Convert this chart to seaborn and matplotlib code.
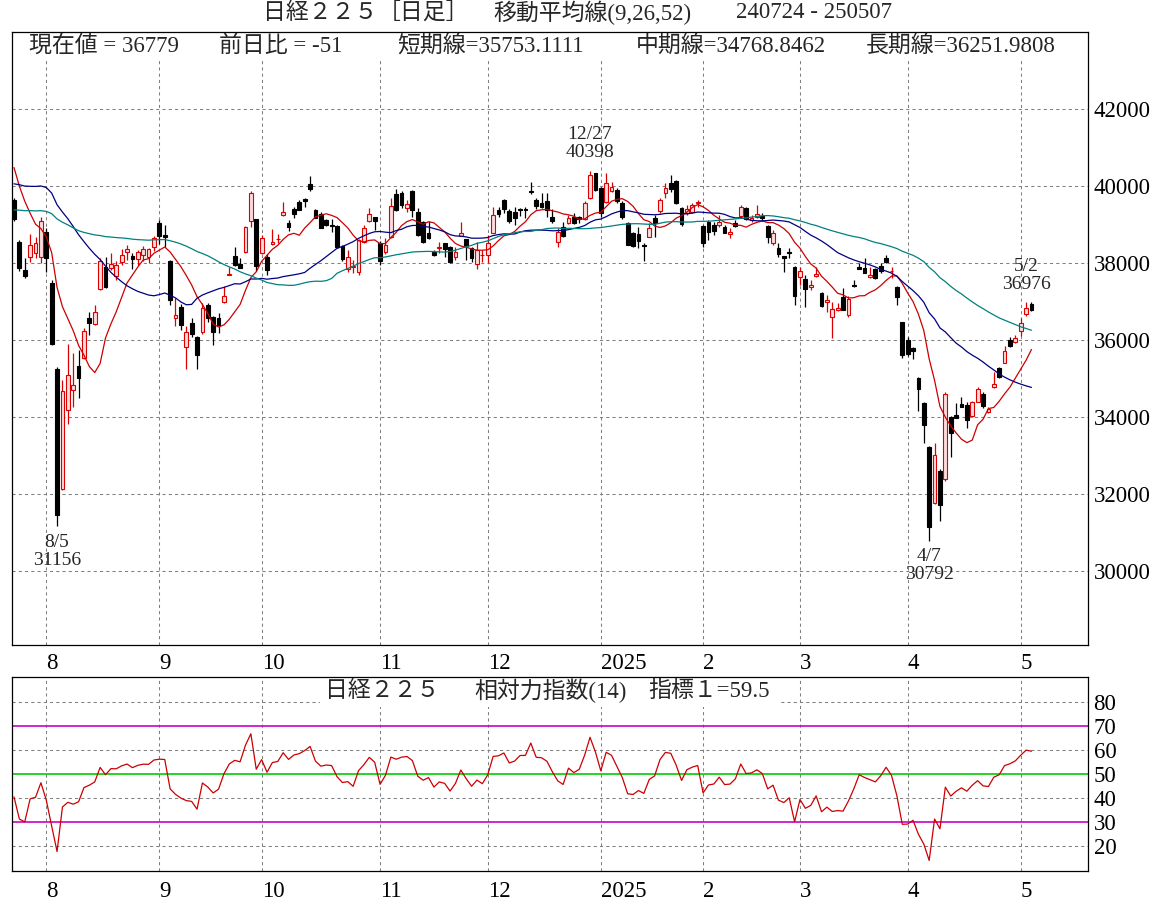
import numpy as np
import pandas as pd
import matplotlib
matplotlib.use("Agg")
import matplotlib.pyplot as plt
import seaborn as sns
from matplotlib.patches import Rectangle

# ---------------- data ----------------
# closes before the display window (2024-05-09 .. 2024-07-23), used for MA / RSI warm-up
prior_close = [38073, 38229, 38179, 38356, 38385, 38920, 38787, 39069, 38946, 38617, 39103, 38646,
               38900, 38855, 38556, 38054, 38487,
               38923, 38837, 38490, 38703, 38683, 39038, 39134, 38876, 38720, 38814, 38102, 38482,
               38570, 38633, 38596, 38804, 39173, 39667, 39341, 39583,
               39631, 40074, 40580, 40913, 40912, 40780, 41580, 41831, 42224, 41190, 41275, 41097,
               40126, 40063, 39599, 39594]

dates = ["2024-07-24", "2024-07-25", "2024-07-26", "2024-07-29", "2024-07-30", "2024-07-31",
         "2024-08-01", "2024-08-02", "2024-08-05", "2024-08-06", "2024-08-07", "2024-08-08", "2024-08-09",
         "2024-08-13", "2024-08-14", "2024-08-15", "2024-08-16", "2024-08-19", "2024-08-20", "2024-08-21",
         "2024-08-22", "2024-08-23", "2024-08-26", "2024-08-27", "2024-08-28", "2024-08-29", "2024-08-30",
         "2024-09-02", "2024-09-03", "2024-09-04", "2024-09-05", "2024-09-06", "2024-09-09", "2024-09-10",
         "2024-09-11", "2024-09-12", "2024-09-13", "2024-09-17", "2024-09-18", "2024-09-19", "2024-09-20",
         "2024-09-24", "2024-09-25", "2024-09-26", "2024-09-27", "2024-09-30",
         "2024-10-01", "2024-10-02", "2024-10-03", "2024-10-04", "2024-10-07", "2024-10-08", "2024-10-09",
         "2024-10-10", "2024-10-11", "2024-10-15", "2024-10-16", "2024-10-17", "2024-10-18", "2024-10-21",
         "2024-10-22", "2024-10-23", "2024-10-24", "2024-10-25", "2024-10-28", "2024-10-29", "2024-10-30",
         "2024-10-31",
         "2024-11-01", "2024-11-05", "2024-11-06", "2024-11-07", "2024-11-08", "2024-11-11", "2024-11-12",
         "2024-11-13", "2024-11-14", "2024-11-15", "2024-11-18", "2024-11-19", "2024-11-20", "2024-11-21",
         "2024-11-22", "2024-11-25", "2024-11-26", "2024-11-27", "2024-11-28", "2024-11-29",
         "2024-12-02", "2024-12-03", "2024-12-04", "2024-12-05", "2024-12-06", "2024-12-09", "2024-12-10",
         "2024-12-11", "2024-12-12", "2024-12-13", "2024-12-16", "2024-12-17", "2024-12-18", "2024-12-19",
         "2024-12-20", "2024-12-23", "2024-12-24", "2024-12-25", "2024-12-26", "2024-12-27", "2024-12-30",
         "2025-01-06", "2025-01-07", "2025-01-08", "2025-01-09", "2025-01-10", "2025-01-14", "2025-01-15",
         "2025-01-16", "2025-01-17", "2025-01-20", "2025-01-21", "2025-01-22", "2025-01-23", "2025-01-24",
         "2025-01-27", "2025-01-28", "2025-01-29", "2025-01-30", "2025-01-31",
         "2025-02-03", "2025-02-04", "2025-02-05", "2025-02-06", "2025-02-07", "2025-02-10", "2025-02-12",
         "2025-02-13", "2025-02-14", "2025-02-17", "2025-02-18", "2025-02-19", "2025-02-20", "2025-02-21",
         "2025-02-25", "2025-02-26", "2025-02-27", "2025-02-28",
         "2025-03-03", "2025-03-04", "2025-03-05", "2025-03-06", "2025-03-07", "2025-03-10", "2025-03-11",
         "2025-03-12", "2025-03-13", "2025-03-14", "2025-03-17", "2025-03-18", "2025-03-19", "2025-03-21",
         "2025-03-24", "2025-03-25", "2025-03-26", "2025-03-27", "2025-03-28", "2025-03-31",
         "2025-04-01", "2025-04-02", "2025-04-03", "2025-04-04", "2025-04-07", "2025-04-08", "2025-04-09",
         "2025-04-10", "2025-04-11", "2025-04-14", "2025-04-15", "2025-04-16", "2025-04-17", "2025-04-18",
         "2025-04-21", "2025-04-22", "2025-04-23", "2025-04-24", "2025-04-25", "2025-04-28", "2025-04-30",
         "2025-05-01", "2025-05-02", "2025-05-07"]

opens = [39640, 38550, 37820, 38160, 38260, 38160,
         38805, 37480, 35250, 32130, 34180, 34700, 35325, 35530, 36570, 36420, 37330, 37900, 37870, 37660,
         38020, 38280, 38180, 38100, 38210, 38160, 38420,
         39040, 38730, 38050, 36570, 36860, 35820, 36440, 36080, 36210, 36910, 36600, 36570, 36990, 37700,
         38180, 37970, 38290, 39090, 39140,
         38260, 38160, 38490, 38620, 39250, 39040, 39400, 39580, 39660, 40050, 39380, 39270, 39110, 38990,
         38960, 38440, 37850, 37900, 37770, 38550, 39090, 39190,
         38520, 38290, 38680, 39790, 39820, 39430, 39870, 39320, 39060, 38780, 38290, 38400, 38520, 38410,
         38160, 38700, 38620, 38390, 37980, 38200,
         38210, 38780, 39380, 39640, 39350, 39320, 39390, 39400, 39870, 39640, 39560, 39610, 39200, 38550,
         38940, 39040, 39190, 39190, 39150, 39690, 40340,
         39950, 39580, 39870, 39900, 39560, 39040, 38780, 38750, 38480, 38680, 39170, 39350, 39820, 40080,
         40130, 39430, 39300, 39330, 39560,
         38960, 39070, 38990, 38990, 38940, 38750, 39030, 39220, 39430, 39120, 39200, 39220, 38960, 38520,
         38390, 38170, 38290, 37900,
         37640, 37590, 37380, 37660, 37220, 36990, 36600, 36780, 37120, 36650, 37440, 37900, 37870, 37640,
         37840, 37920, 38130, 37780, 37380, 36470,
         36000, 35790, 35010, 34360, 33220, 31770, 32600, 32390, 34000, 34050, 34340, 34310, 34030, 34390,
         34600, 34130, 34780, 35270, 35400, 36000, 35950,
         36230, 36680, 36930]

highs = [39680, 38600, 38130, 38750, 38680, 39200,
         38910, 37560, 35300, 34960, 35900, 35660, 35740, 36300, 36730, 36910, 38140, 38150, 38260, 38050,
         38360, 38470, 38260, 38340, 38440, 38400, 38700,
         39120, 38990, 38080, 37090, 36940, 36360, 36570, 36100, 36960, 36960, 36620, 36700, 37400, 37900,
         38410, 38130, 38950, 39860, 39150,
         38730, 38230, 38880, 38750, 39580, 39120, 39460, 39640, 39690, 40257, 39390, 39320, 39150, 39140,
         38990, 38460, 38330, 38080, 38620, 38990, 39430, 39200,
         38560, 38640, 39690, 39920, 39880, 39640, 39890, 39430, 39100, 39090, 38330, 38540, 38530, 38430,
         38420, 39060, 38630, 38420, 38540, 38340,
         38730, 39450, 39460, 39660, 39400, 39460, 39430, 39460, 40091, 39680, 39810, 39820, 39400, 38910,
         39070, 39250, 39300, 39220, 39600, 40398, 40350,
         39980, 40350, 40100, 39950, 39600, 39060, 38800, 38940, 38520, 39040, 39250, 39700, 40080, 40280,
         40150, 39450, 39500, 39560, 39640,
         38980, 39120, 39070, 39250, 38990, 38910, 39120, 39500, 39450, 39250, 39500, 39300, 38990, 38850,
         38530, 38190, 38390, 37920,
         37890, 37680, 37550, 37900, 37250, 37170, 37000, 36960, 37350, 37150, 37560, 38000, 38130, 37900,
         37860, 38010, 38220, 37900, 37390, 36480,
         36080, 35820, 35030, 34380, 33240, 33330, 32650, 34650, 34020, 34370, 34520, 34400, 34420, 34790,
         34650, 34260, 35170, 35300, 35850, 36080, 36140,
         36570, 36976, 36980]

lows = [39090, 37800, 37600, 38020, 38130, 38000,
        37770, 35880, 31156, 32100, 33820, 34260, 34490, 35500, 36130, 36380, 37290, 37360, 37820, 37550,
        37950, 38080, 37840, 37950, 38050, 38000, 38300,
        38500, 38410, 36910, 36360, 36260, 35250, 36080, 35250, 36150, 36460, 35870, 36180, 36950, 37690,
        37920, 37860, 38250, 38940, 37800,
        38240, 37690, 38480, 38520, 39230, 38830, 39160, 39370, 39450, 39880, 39160, 38900, 38950, 38800,
        38400, 38060, 37770, 37740, 37700, 38520, 39060, 38850,
        37950, 38230, 38640, 39350, 39440, 39330, 39190, 38700, 38510, 38620, 38180, 38270, 38150, 37990,
        38070, 38690, 38090, 38030, 37840, 38030,
        38000, 38770, 39200, 39300, 39050, 38990, 39220, 39170, 39800, 39400, 39420, 39190, 39050, 38420,
        38680, 39020, 39020, 39050, 39120, 39650, 39860,
        39200, 39560, 39850, 39560, 39140, 38460, 38420, 38390, 38055, 38670, 38680, 39300, 39690, 39840,
        39540, 38950, 39250, 39300, 39450,
        38410, 38600, 38730, 38940, 38780, 38650, 38940, 39180, 39120, 39060, 39180, 39100, 38520, 38470,
        38160, 37770, 38130, 36900,
        37430, 36860, 37300, 37640, 36860, 36730, 36040, 36760, 36780, 36600, 37380, 37840, 37740, 37620,
        37590, 37740, 38000, 37620, 36900, 35520,
        35580, 35510, 34160, 33330, 30792, 31750, 31300, 32350, 32960, 33970, 34250, 33720, 34010, 34380,
        34240, 34110, 34760, 35010, 35400, 35820, 35930,
        36100, 36620, 36760]

closes = [39154, 37869, 37667, 38468, 38526, 39101,
          38126, 35909, 31458, 34675, 35089, 34831, 35025, 36232, 36442, 36726, 38062, 37388, 37963, 37951,
          38211, 38364, 38110, 38288, 38371, 38362, 38647,
          38700, 38686, 37047, 36657, 36391, 36215, 36159, 35619, 36833, 36581, 36203, 36380, 37155, 37723,
          37940, 37870, 38925, 39829, 37919,
          38651, 37808, 38552, 38635, 39332, 38937, 39277, 39380, 39605, 39910, 39180, 38911, 38981, 38954,
          38411, 38104, 38143, 37913, 38605, 38904, 39277, 39081,
          38053, 38474, 39480, 39381, 39500, 39533, 39376, 38721, 38535, 38642, 38220, 38414, 38352, 38026,
          38283, 38780, 38442, 38134, 38349, 38208,
          38513, 39248, 39276, 39395, 39091, 39160, 39367, 39372, 39849, 39470, 39457, 39364, 39081, 38813,
          38701, 39161, 39036, 39130, 39568, 40281, 39894,
          39307, 40083, 39981, 39605, 39190, 38474, 38444, 38572, 38451, 38902, 39027, 39646, 39958, 39931,
          39565, 39016, 39414, 39513, 39572,
          38520, 38798, 38831, 39066, 38787, 38801, 38963, 39461, 39149, 39174, 39270, 39164, 38678, 38776,
          38237, 38142, 38256, 37155,
          37785, 37331, 37418, 37704, 36887, 37028, 36793, 36819, 36790, 37053, 37396, 37845, 37751, 37677,
          37608, 37780, 38027, 37799, 37120, 35617,
          35624, 35725, 34735, 33780, 31136, 33012, 31714, 34609, 33585, 33982, 34267, 33920, 34377, 34730,
          34280, 34220, 34868, 35039, 35705, 35839, 36045,
          36452, 36830, 36779]

ma_periods = [9, 26, 52]
rsi_period = 14
month_labels = ["8", "9", "10", "11", "12", "2025", "2", "3", "4", "5"]
price_ticks = [30000, 32000, 34000, 36000, 38000, 40000, 42000]
rsi_ticks = [20, 30, 40, 50, 60, 70, 80]
rsi_grid = [20, 40, 60, 80]
rsi_bands = [30, 70]
rsi_mid = [50]
annot_dates = ["2024-08-05", "2024-12-27", "2025-04-07", "2025-05-02"]
annot_kind = ["low", "high", "low", "high"]

title_parts = ["日経２２５", "［日足］", "移動平均線(9,26,52)", "240724 - 250507"]
header_parts = ["現在値 = 36779", "前日比 = -51", "短期線=35753.1111", "中期線=34768.8462", "長期線=36251.9808"]
rsi_title_parts = ["日経２２５", "相対力指数(14)", "指標１=59.5"]

# ---------------- derived series ----------------
n = len(dates)
idx = np.arange(n)
dt = pd.to_datetime(dates)
O = np.array(opens, float); H = np.array(highs, float)
L = np.array(lows, float); C = np.array(closes, float)

allc = pd.Series(list(prior_close) + list(closes), dtype=float)
np_ = len(prior_close)
mas = [allc.rolling(p).mean().iloc[np_:].values for p in ma_periods]

d = allc.diff()
up = d.clip(lower=0)
dn = (-d).clip(lower=0)
ag = up.ewm(alpha=1 / rsi_period, adjust=False).mean()
al = dn.ewm(alpha=1 / rsi_period, adjust=False).mean()
rsi = (100 * ag / (ag + al)).iloc[np_:].values

month_pos = [i for i in range(1, n) if dt[i].month != dt[i - 1].month]

# ---------------- styling ----------------
sns.set_theme(style="white")
plt.rcParams["font.family"] = ["Liberation Serif", "Noto Sans CJK JP", "DejaVu Sans"]
plt.rcParams["axes.edgecolor"] = "black"
plt.rcParams["axes.linewidth"] = 0.9

W, Hpx = 1171, 902
fig = plt.figure(figsize=(W / 100, Hpx / 100), dpi=100)
fig.patch.set_facecolor("white")

def fx(px):
    return px / W

def fy(py):
    return 1 - py / Hpx

ax = fig.add_axes([fx(12), fy(645), fx(1088) - fx(12), fy(32) - fy(645)])
ax2 = fig.add_axes([fx(12), fy(871), fx(1088) - fx(12), fy(677) - fy(871)])

xlim = (-0.37, 199.5)
grid_kw = dict(color="#808080", linewidth=0.75, linestyle=(0, (3, 3)))

UP_EDGE = "#dd0000"
UP_FILL = "#f9dede"
MA_COLORS = ["#cc0000", "#000080", "#008080"]
TICK_FS = 16.5
TEXT_FS = 16.5

# ---- main panel ----
ax.set_facecolor("white")
ax.set_axisbelow(True)
ax.set_xlim(*xlim)
ax.set_ylim(28078, 44000)
ax.set_xticks(month_pos)
ax.set_xticklabels(month_labels, ha="left")
ax.set_yticks(price_ticks)
ax.set_yticklabels([str(v) for v in price_ticks])
ax.yaxis.tick_right()
ax.tick_params(axis="both", length=0, labelsize=TICK_FS, colors="black")
ax.tick_params(axis="y", pad=4)
ax.tick_params(axis="x", pad=6)
ax.grid(True, axis="both", **grid_kw)

is_up = C >= O
wick_col = np.where(is_up, UP_EDGE, "black")
ax.vlines(idx, L, H, colors=wick_col, linewidth=0.9, zorder=2)
body_h = np.abs(C - O)
body_b = np.minimum(O, C)
ax.bar(idx, body_h, bottom=body_b, width=0.7,
       color=np.where(is_up, UP_FILL, "black"),
       edgecolor=np.where(is_up, UP_EDGE, "black"), linewidth=0.8, zorder=3)

for ma, col in zip(mas, MA_COLORS):
    sns.lineplot(x=idx, y=ma, ax=ax, color=col, linewidth=0.9, estimator=None, zorder=4)
ax.set_xlabel(""); ax.set_ylabel("")

# header band (covers gridlines behind text)
ax.add_patch(Rectangle((0, (645 - 58) / 613), 1, (58 - 35) / 613, transform=ax.transAxes,
                       facecolor="white", edgecolor="none", zorder=1.5))

for ds, kind in zip(annot_dates, annot_kind):
    i = dates.index(ds)
    dd = dt[i]
    if kind == "low":
        val = L[i]
        ax.annotate(f"{dd.month}/{dd.day}\n{int(val)}", xy=(i, val), xytext=(0, -5.5),
                    textcoords="offset points", ha="center", va="top", fontsize=14,
                    linespacing=1.05, zorder=6)
    else:
        val = H[i]
        ax.annotate(f"{dd.month}/{dd.day}\n{int(val)}", xy=(i, val), xytext=(0, 7),
                    textcoords="offset points", ha="center", va="bottom", fontsize=14,
                    linespacing=1.05, zorder=6)

# ---- RSI panel ----
ax2.set_facecolor("white")
ax2.set_axisbelow(True)
ax2.set_xlim(*xlim)
ax2.set_ylim(9.6, 90.4)
ax2.set_xticks(month_pos)
ax2.set_xticklabels(month_labels, ha="left")
ax2.set_yticks(rsi_ticks)
ax2.set_yticklabels([str(v) for v in rsi_ticks])
ax2.yaxis.tick_right()
ax2.tick_params(axis="both", length=0, labelsize=TICK_FS, colors="black")
ax2.tick_params(axis="y", pad=4)
ax2.tick_params(axis="x", pad=7)
ax2.grid(True, axis="x", **grid_kw)
for v in rsi_grid:
    ax2.axhline(v, zorder=0.8, **grid_kw)
for v in rsi_bands:
    ax2.axhline(v, color="#cc00cc", linewidth=1.2, zorder=1)
for v in rsi_mid:
    ax2.axhline(v, color="#00cc00", linewidth=1.2, zorder=1)
ax2.add_patch(Rectangle((fx(320), fy(707)), fx(780) - fx(320), fy(679) - fy(707),
                        transform=fig.transFigure, facecolor="white", edgecolor="none", zorder=1.5))
sns.lineplot(x=idx, y=rsi, ax=ax2, color="#cc0000", linewidth=0.9, estimator=None, zorder=3)
ax2.set_xlabel(""); ax2.set_ylabel("")

# ---- texts ----
for txt, px in zip(title_parts, [263, 378, 493, 736]):
    fig.text(fx(px), fy(13), txt, fontsize=TEXT_FS, ha="left", va="center")
for txt, px in zip(header_parts, [29, 219, 397, 636, 866]):
    fig.text(fx(px), fy(46), txt, fontsize=TEXT_FS, ha="left", va="center")
for txt, px in zip(rsi_title_parts, [325, 474, 648]):
    fig.text(fx(px), fy(691), txt, fontsize=TEXT_FS, ha="left", va="center")

fig.savefig("out.png", dpi=100, facecolor="white")
